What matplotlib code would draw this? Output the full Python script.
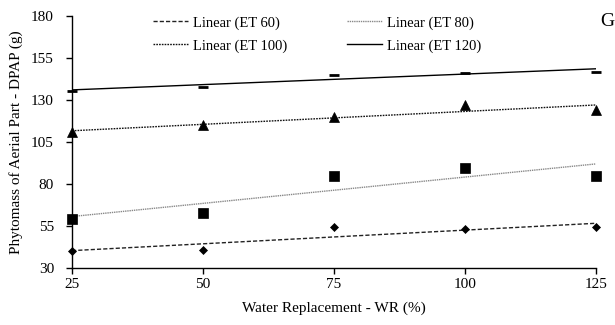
import numpy as np
import matplotlib
matplotlib.use("Agg")
import matplotlib.pyplot as plt

plt.rcParams['font.family'] = ['Liberation Serif', 'DejaVu Serif']

wr = [25, 50, 75, 100, 125]
et60 = [40.1, 40.5, 54.6, 53.0, 54.2]
et80 = [59.0, 63.0, 85.0, 89.7, 84.8]
et100 = [110.8, 115.0, 120.0, 127.0, 124.0]
et120 = [135.4, 137.9, 145.0, 146.3, 146.9]
labels = ["Linear (ET 60)", "Linear (ET 80)", "Linear (ET 100)", "Linear (ET 120)"]
yticks = [30, 55, 80, 105, 130, 155, 180]
xticks = [25, 50, 75, 100, 125]

fig = plt.figure(figsize=(6.15, 3.25), dpi=100)
ax = fig.add_axes([72/615, 1 - 268/325, (596-72)/615, (268-16)/325])

x = np.array(wr, dtype=float)
series = [et60, et80, et100, et120]
markers = ['D', 's', '^', '_']
msizes = [4, 7, 6.5, 7]
lstyles = [(0, (3, 1.5)), (0, (1, 0.6)), (0, (1.2, 0.8)), '-']
lcolors = ['#222222', '#888888', '#111111', '#000000']
handles = []
for ys, m, ms, ls, lc, lab in zip(series, markers, msizes, lstyles, lcolors, labels):
    ax.plot(x, ys, linestyle='none', marker=m, markersize=ms, color='black',
            markeredgewidth=2 if m == '_' else 0.5, clip_on=False, zorder=3)
    k, b = np.polyfit(x, ys, 1)
    xx = np.array([x.min(), x.max()])
    h, = ax.plot(xx, k*xx + b, linestyle=ls, color=lc, linewidth=1.0, label=lab)
    handles.append(h)

ax.set_xlim(25, 125)
ax.set_ylim(30, 180)
ax.set_xticks(xticks)
ax.set_yticks(yticks)
for s in ['top', 'right']:
    ax.spines[s].set_visible(False)
for s in ['left', 'bottom']:
    ax.spines[s].set_linewidth(1.0)
ax.tick_params(direction='out', length=4, width=1, labelsize=11, colors='black')
ax.tick_params(axis='y', pad=9)
ax.set_xlabel("Water Replacement - WR (%)", fontsize=11, labelpad=7)
ax.set_ylabel("Phytomass of Aerial Part - DPAP (g)", fontsize=11, labelpad=6)

order = [0, 2, 1, 3]
fig.legend(handles=[handles[i] for i in order], labels=[labels[i] for i in order],
           ncol=2, frameon=False,
           loc='upper left', bbox_to_anchor=(140/615, 1 - 3/325),
           fontsize=10.5, handlelength=2.4, handletextpad=0.35,
           columnspacing=4.1, labelspacing=0.65)

fig.text(600/615, 1 - 22/325, "G", fontsize=14, ha='left', va='center')

fig.savefig("out.png", dpi=100)
